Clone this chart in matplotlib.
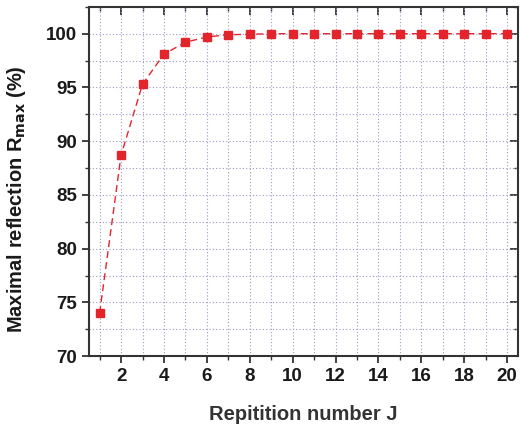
import matplotlib
matplotlib.use("Agg")
import matplotlib.pyplot as plt
from matplotlib.ticker import MultipleLocator

# repetition number J and the maximal reflection reached (%)
reps = list(range(1, 21))
r_max = [74.0, 88.7, 95.3, 98.1, 99.2, 99.7, 99.9, 99.95, 100.0, 100.0,
         100.0, 100.0, 100.0, 100.0, 100.0, 100.0, 100.0, 100.0, 100.0, 100.0]

x_ticks = [2, 4, 6, 8, 10, 12, 14, 16, 18, 20]
y_ticks = [70, 75, 80, 85, 90, 95, 100]

plt.rcParams["font.family"] = ["Liberation Sans", "DejaVu Sans"]

fig = plt.figure(figsize=(5.23, 4.28), dpi=100)
ax = fig.add_axes([0.170, 0.168, 0.820, 0.816])

red = "#e3242b"
ax.plot(reps, r_max, linestyle=(0, (5, 3)), color=red, linewidth=1.0,
        marker="s", markersize=5.5, markerfacecolor=red, markeredgecolor=red,
        zorder=3)

ax.set_xlim(0.5, 20.5)
ax.set_ylim(70, 102.5)
ax.set_xticks(x_ticks)
ax.set_yticks(y_ticks)
ax.xaxis.set_minor_locator(MultipleLocator(1))
ax.yaxis.set_minor_locator(MultipleLocator(2.5))

grid_kw = dict(color="#9a9ac8", linestyle=(0, (1, 2)), linewidth=0.8)
ax.grid(True, which="major", **grid_kw)
ax.grid(True, which="minor", **grid_kw)
ax.set_axisbelow(True)

for side in ax.spines.values():
    side.set_linewidth(1.5)
    side.set_color("#333333")

ax.tick_params(which="major", direction="out", length=5, width=1.3,
               color="#333333", labelsize=13.5, labelcolor="#1a1a1a")
ax.tick_params(which="minor", direction="out", length=3, width=1.0,
               color="#333333")
for t in ax.get_xticklabels() + ax.get_yticklabels():
    t.set_fontweight("bold")

# inward ticks on the top and right frame
top = ax.secondary_xaxis("top")
top.set_xticks(x_ticks)
top.xaxis.set_minor_locator(MultipleLocator(1))
top.tick_params(which="major", direction="in", length=6, width=1.3,
                color="#333333", labeltop=False)
top.tick_params(which="minor", direction="in", length=3, width=1.0,
                color="#333333")
top.spines["top"].set_visible(False)
right = ax.secondary_yaxis("right")
right.set_yticks(y_ticks)
right.yaxis.set_minor_locator(MultipleLocator(2.5))
right.tick_params(which="major", direction="in", length=6, width=1.3,
                  color="#333333", labelright=False)
right.tick_params(which="minor", direction="in", length=3, width=1.0,
                  color="#333333")
right.spines["right"].set_visible(False)

ax.set_xlabel("Repitition number J", fontsize=14.5, fontweight="bold",
              color="#333333")
ax.xaxis.set_label_coords(0.5, -0.14)
ax.set_ylabel(r"Maximal reflection R$_{\mathbf{max}}$ (%)", fontsize=14.5,
              fontweight="bold", color="#1a1a1a")
ax.yaxis.set_label_coords(-0.142, 0.45)

fig.savefig("out.png", dpi=100)
